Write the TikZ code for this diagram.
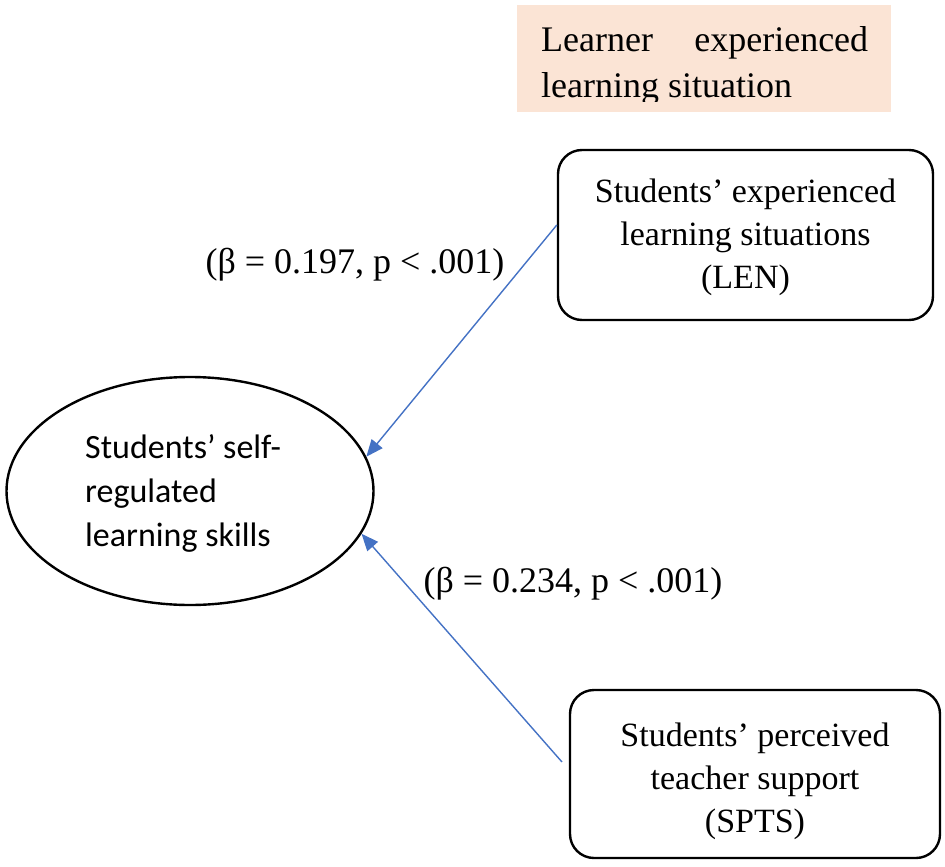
\documentclass[tikz,border=0pt]{standalone}
\usepackage{fontspec}
\setmainfont{Liberation Serif}
\newfontfamily\calfont{Carlito}
\usetikzlibrary{arrows.meta,shapes.geometric}
\definecolor{arrblue}{HTML}{4472C4}
\definecolor{peach}{HTML}{FBE4D5}
\tikzset{
  rbox/.style={draw=black, line width=2.4pt, rounded corners=24pt, inner sep=0pt},
  boxtext/.style={align=center, font=\fontsize{34}{43}\selectfont, inner sep=0pt},
  lbl/.style={font=\fontsize{36}{40}\selectfont, inner sep=0pt, anchor=base},
  headtext/.style={font=\fontsize{36}{45}\selectfont, inner sep=0pt, anchor=base west},
  conn/.style={draw=arrblue, line width=1.4pt, -{Triangle[length=17pt,width=14pt]}}
}
\begin{document}
\begin{tikzpicture}[x=1pt,y=-1pt]
\useasboundingbox (0,0) rectangle (945,867);
% heading box
\fill[peach] (517,5) rectangle (891,112);
\begin{scope}
\clip (517,5) rectangle (891,101);
\node[headtext] (head1) at (541,52) {\hbox to 327pt{Learner\hfill experienced}};
\node[headtext] (head2) at (541,97) {learning situation};
\end{scope}
% LEN box
\node[rbox, minimum width=375pt, minimum height=170pt] (len) at (745.5,235) {};
\node[boxtext] (lentext) at (745.5,237) {Students’ experienced\\learning situations\\(LEN)};
% SPTS box
\node[rbox, minimum width=370pt, minimum height=168pt] (spts) at (755,774) {};
\node[boxtext] (sptstext) at (755,781) {Students’ perceived\\teacher support\\(SPTS)};
% ellipse
\node[ellipse, draw=black, line width=2.4pt, minimum width=367pt, minimum height=228pt, inner sep=0pt] (srl) at (190,491) {};
\node[align=left, font=\calfont\fontsize{34}{44}\selectfont, inner sep=0pt, anchor=west] (srltext) at (85,493)
  {Students’ self-\\regulated\\learning skills};
% labels
\node[lbl] (b1) at (355,273) {(β = 0.197, p < .001)};
\node[lbl] (b2) at (573,592) {(β = 0.234, p < .001)};
% connectors
\coordinate (s1) at (len.west |- 0,225);
\coordinate (s2) at (562,762);
\draw[conn] (s1) -- (srl.11.1);
\draw[conn] (s2) -- (srl.-14.5);
\end{tikzpicture}
\end{document}
